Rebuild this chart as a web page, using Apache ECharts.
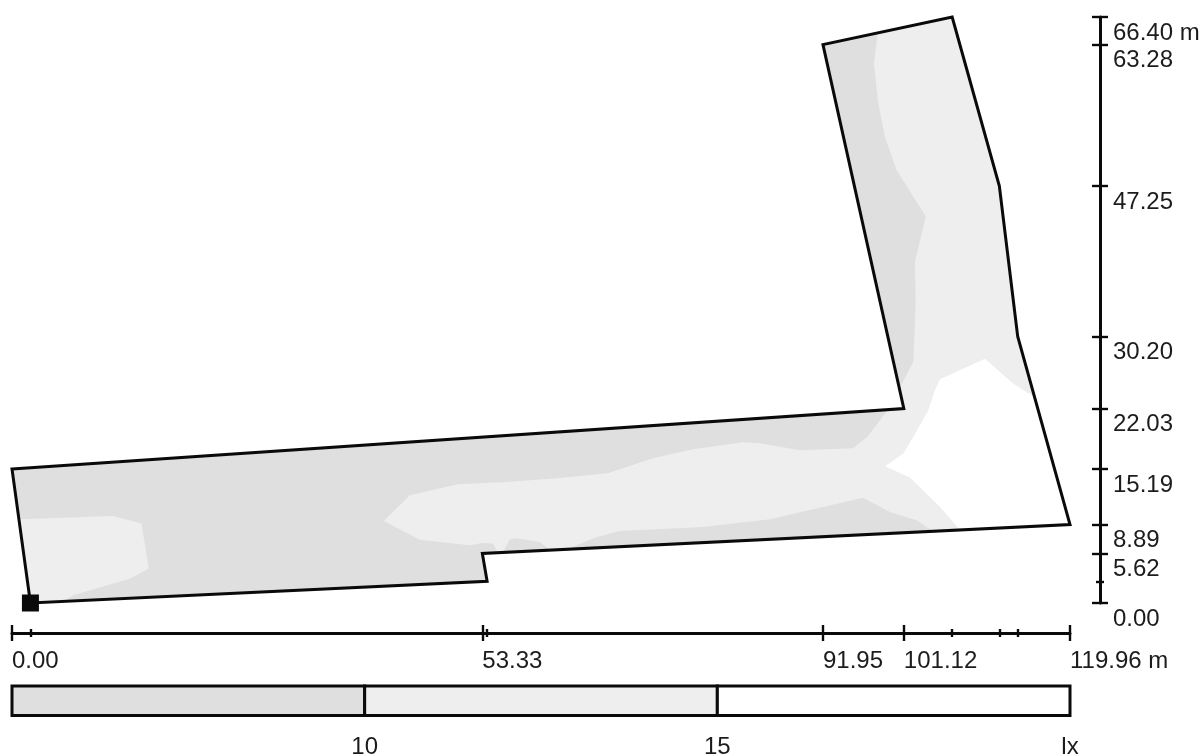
<!DOCTYPE html>
<html>
<head>
<meta charset="utf-8">
<style>html,body{margin:0;padding:0;background:#fff}#c{width:1204px;height:756px}</style>
<script src="https://cdn.jsdelivr.net/npm/echarts@6/dist/echarts.min.js"></script>
</head>
<body>
<div id="c"></div>
<script>
const xTicks = [0, 53.33, 91.95, 101.12, 119.96];
const xTickLabels = ['0.00', '53.33', '91.95', '101.12', '119.96 m'];
const xMinorTicks = [2.09, 53.87, 106.6, 111.95, 114.03];
const yTicks = [0, 5.62, 8.89, 15.19, 22.03, 30.20, 47.25, 63.28, 66.40];
const yTickLabels = ['0.00', '5.62', '8.89', '15.19', '22.03', '30.20', '47.25', '63.28', '66.40 m'];
const yMinorTicks = [2.46];

const building = [[0,15.19],[101.12,22.03],[91.95,63.28],[106.6,66.40],[111.95,47.25],[114.03,30.20],[119.96,8.89],[53.33,5.62],[53.87,2.46],[2.09,0]];

const lightMain = [[42.16,9.29],[45.11,12.20],[50.55,13.45],[55.65,13.68],[61.78,14.13],[67.56,14.69],[72.67,16.39],[77.21,17.41],[82.88,18.21],[84.80,18.09],[89.34,17.30],[95.35,17.53],[96.94,18.77],[99.32,21.9],[101.12,22.03],[100.61,24.33],[102.19,27.31],[102.46,33.96],[102.38,38.64],[103.60,43.81],[102.16,46.08],[100.31,49.03],[98.98,52.80],[98.22,56.62],[97.73,61.11],[98.15,64.6],[106.6,66.40],[111.95,47.25],[114.03,30.20],[119.96,8.89],[104.42,8.13],[102.58,9.37],[99.55,10.31],[96.49,11.94],[85.94,9.48],[78.34,8.61],[68.93,8.16],[66.32,7.48],[62.91,6.09],[60.99,6.00],[59.85,6.91],[57.24,7.33],[56.45,7.22],[55.65,5.73],[55.09,5.71],[54.52,6.73],[53.39,6.80],[51.91,6.54],[46.24,7.18]];
const lightLeft = [[0.79,9.48],[11.46,9.86],[14.68,9.00],[15.50,3.90],[13.35,2.76],[6.92,0.87],[5.78,0.18],[2.09,0]];
const whiteZone = [[98.98,15.49],[101.06,16.93],[102.19,18.81],[103.89,21.83],[104.65,24.10],[105.22,25.35],[110.32,27.69],[113.50,24.86],[115.95,23.31],[119.96,8.89],[107.49,8.28],[105.22,10.88],[101.82,14.21]];
const luminaire = [[2.09, 0]];

const scaleStops = [5, 10, 15, 20];
const scaleColors = ['#dfdfdf', '#eeeeee', '#ffffff'];
const scaleLabels = ['10', '15', 'lx'];
const scaleLabelValues = [10, 15, 20];

const INK = '#0a0a0a';
const TXT = '#1c1c1c';
const FONT = '"Liberation Sans"';
const FS = 24;

function poly(pts, fill, stroke) {
  return {
    type: 'custom', xAxisIndex: 0, yAxisIndex: 0, clip: false, silent: true,
    data: pts,
    renderItem(params, api) {
      if (params.dataIndex !== 0) return null;
      return { type: 'polygon', shape: { points: pts.map(p => api.coord(p)) },
        style: stroke ? { fill: 'none', stroke, lineWidth: 3, lineJoin: 'miter' } : { fill } };
    }
  };
}
function xA(ticks, len, inside, labels) {
  return {
    type: 'value', gridIndex: 0, min: 0, max: 119.96, position: 'bottom', offset: 30,
    axisLine: { show: !!labels, onZero: false, lineStyle: { color: INK, width: 3 } },
    axisTick: { show: true, customValues: ticks, length: len, inside, lineStyle: { color: INK, width: 2.4 } },
    axisLabel: labels ? { show: true, customValues: ticks, align: 'left', margin: 16, verticalAlign: 'top', fontSize: FS, fontFamily: FONT, color: TXT,
      formatter: (v, i) => labels[xTicks.indexOf(+v)] } : { show: false },
    splitLine: { show: false }
  };
}
function yA(ticks, len, inside, labels) {
  return {
    type: 'value', gridIndex: 0, min: 0, max: 66.40, position: 'right', offset: 30,
    axisLine: { show: !!labels, onZero: false, lineStyle: { color: INK, width: 3 } },
    axisTick: { show: true, customValues: ticks, length: len, inside, lineStyle: { color: INK, width: 2.4 } },
    axisLabel: labels ? { show: true, customValues: ticks, align: 'left', margin: 13, verticalAlign: 'top', padding: [4, 0, 0, 0], fontSize: FS, fontFamily: FONT, color: TXT,
      formatter: (v, i) => labels[yTicks.indexOf(+v)] } : { show: false },
    splitLine: { show: false }
  };
}

const chart = echarts.init(document.getElementById('c'));
chart.setOption({
  animation: false,
  backgroundColor: '#fff',
  grid: [
    { left: 12, width: 1058, top: 17, height: 586, outerBoundsMode: 'none' },
    { left: 12, width: 1058, top: 686, height: 29.5, outerBoundsMode: 'none' }
  ],
  xAxis: [
    xA(xTicks, 8, false, xTickLabels), xA(xTicks, 8, true), xA(xMinorTicks, 4, false), xA(xMinorTicks, 4, true),
    { type: 'value', gridIndex: 1, min: 5, max: 20, position: 'bottom',
      axisLine: { show: false }, axisTick: { show: false }, splitLine: { show: false },
      axisLabel: { show: true, customValues: scaleLabelValues, margin: 20, verticalAlign: 'top', fontSize: FS, fontFamily: FONT, color: TXT,
        formatter: v => scaleLabels[scaleLabelValues.indexOf(+v)] } }
  ],
  yAxis: [
    yA(yTicks, 8, false, yTickLabels), yA(yTicks, 8, true), yA(yMinorTicks, 4, false), yA(yMinorTicks, 4, true),
    { type: 'value', gridIndex: 1, min: 0, max: 1, show: false }
  ],
  series: [
    poly(building, scaleColors[0]),
    poly(lightMain, scaleColors[1]),
    poly(lightLeft, scaleColors[1]),
    poly(whiteZone, scaleColors[2]),
    poly(building, null, INK),
    { type: 'scatter', xAxisIndex: 0, yAxisIndex: 0, data: luminaire, symbol: 'rect', symbolSize: 17, clip: false, silent: true,
      itemStyle: { color: '#0a0a0a', opacity: 1 } },
    { type: 'custom', xAxisIndex: 4, yAxisIndex: 4, silent: true, clip: false,
      data: scaleColors.map((c, i) => [scaleStops[i], scaleStops[i + 1]]),
      renderItem(params, api) {
        const a = api.coord([api.value(0), 0]);
        const b = api.coord([api.value(1), 1]);
        return { type: 'rect', shape: { x: a[0], y: b[1], width: b[0] - a[0], height: a[1] - b[1] },
          style: { fill: scaleColors[params.dataIndex], stroke: INK, lineWidth: 3 } };
      } }
  ]
});
</script>
</body>
</html>
